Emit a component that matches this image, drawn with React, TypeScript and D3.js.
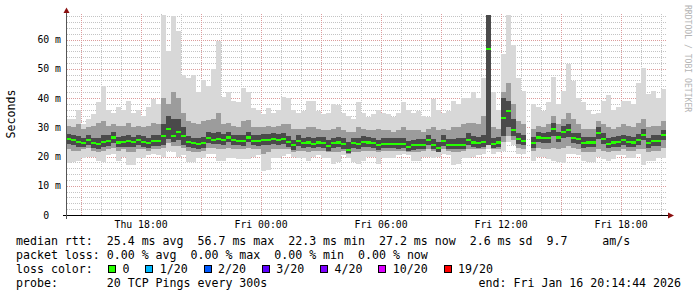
import React from 'react';
import * as d3 from 'd3';

// ---- time frame (15-minute buckets) ----
const START = Date.UTC(2026, 0, 15, 14, 14, 44);
const END = Date.UTC(2026, 0, 16, 20, 14, 44);
const STEP_MS = 15 * 60 * 1000;
const Y_TOP = 68.4;

// ---- median RTT per bucket (ms) ----
const median: (number | null)[] = [
  26.0, 25.5, 25.0, 24.7, 25.5, 24.5, 24.2, 25.0, 25.3, 26.5, 24.8, 25.0, 25.2, 25.0, 25.5, 25.0, 24.5, 25.3, 25.2, 27.0, 29.5, 27.0, 28.5, 27.0, 25.0, 24.5, 24.2, 24.5, 26.3, 25.8,
  26.0, 25.8, 26.5, 25.5, 25.4, 25.2, 26.5, 25.4, 25.3, 25.8, 25.8, 26.0, 25.7, 25.9, 25.0, 23.8, 25.3, 24.5, 24.8, 24.4, 24.8, 24.6, 23.5, 24.5, 24.8, 24.3, 22.3, 24.5, 24.3, 25.0,
  24.8, 24.5, 23.8, 24.3, 24.3, 24.4, 24.2, 24.3, 23.2, 23.8, 24.0, 24.0, 25.5, 24.0, 23.0, 25.2, 24.0, 24.1, 24.0, 24.0, 25.8, 24.8, 24.5, 25.0, 56.7, 24.3, 24.8, 33.2, 35.5, 29.0,
  26.0, 25.4, null, 24.6, 26.5, 26.2, 26.3, 29.5, 26.5, 28.4, 29.0, 26.2, 26.0, 24.6, 24.8, 24.8, 28.0, 26.0, 24.3, 24.8, 25.0, 25.5, 25.0, 24.8, 25.8, 27.5, 24.5, 25.3, 25.3, 27.2,
];

// ---- smoke: outer envelope (slowest / fastest ping) ----
const smokeMax: (number | null)[] = [
  32.8, 33, 36, 31, 33, 34.5, 38.5, 44, 36, 35, 37, 36, 39, 35, 36, 34, 37, 39.6, 38, 68.7, 56, 68, 63, 48, 47, 48, 42, 46, 44, 50,
  59.6, 40.2, 42, 39, 38.5, 43.4, 42, 36.5, 36, 34.5, 36.6, 35, 36, 40.3, 40, 36, 35, 35.5, 39, 39, 35.5, 34.5, 35, 38, 37.6, 35, 34, 33, 38.5, 35,
  33.4, 34.5, 35.8, 35, 34.5, 33.5, 35, 38.6, 36, 35, 35.5, 34, 33.5, 39.6, 36, 35, 35.5, 38.9, 38, 40, 40, 41.9, 40, 47, 68.7, 42, 36, 55, 68.7, 58,
  47, 42.5, null, 38, 36.8, 35.5, 38.5, 47.1, 38, 42.3, 51.6, 45.9, 40, 38.5, 35.8, 34.5, 35, 38.9, 41, 35.8, 37, 38.9, 38.9, 38, 45, 50.4, 41.4, 42.3, 40, 43.2,
];
const smokeMin: (number | null)[] = [
  17.8, 18.0, 18.5, 19.5, 20.0, 20.0, 18.5, 18.0, 20.5, 20.8, 18.5, 20.0, 17.0, 17.2, 19.5, 19.5, 20.5, 21.0, 20.5, 20.0, 22.0, 21.5, 20.0, 20.5, 18.0, 18.2, 19.5, 19.5, 21.0, 21.0,
  18.5, 18.5, 19.5, 19.5, 19.0, 19.2, 19.0, 20.0, 20.5, 15.2, 15.5, 19.5, 19.5, 20.2, 21.0, 20.0, 19.5, 19.5, 18.5, 20.0, 20.5, 19.5, 19.5, 17.5, 18.0, 20.5, 19.5, 18.0, 17.5, 18.5,
  20.0, 20.0, 17.4, 19.5, 19.5, 19.5, 20.5, 21.0, 20.5, 18.5, 18.5, 20.0, 20.0, 19.5, 20.0, 21.0, 20.5, 17.0, 17.5, 19.5, 19.5, 20.0, 20.5, 21.0, 22.5, 21.0, 21.5, 22.0, 25.0, 24.0,
  21.0, 21.0, null, 18.5, 20.0, 20.0, 19.0, 18.5, 18.0, 17.8, 21.0, 21.0, 20.5, 18.5, 18.0, 18.0, 20.0, 19.0, 18.5, 19.0, 20.5, 20.5, 19.5, 19.5, 21.0, 17.0, 18.5, 18.5, 19.5, 19.5,
];

// ---- smoke: middle band ----
const midHi: (number | null)[] = [
  30.5, 30, 31, 29.5, 30, 30.5, 31.5, 32, 30.5, 31, 30.5, 30.5, 31.5, 30, 30.5, 30, 30.5, 31.5, 31, 40, 38, 42, 40, 35, 32, 31.5, 31, 32, 32.5, 33,
  35, 31, 31.5, 30.5, 30, 32, 32.5, 30, 30, 30, 30.5, 30, 30.5, 31, 31, 29.5, 29.5, 29.5, 30, 30, 29.5, 29, 29, 29.5, 30, 29, 28.5, 28.5, 30, 29.5,
  29, 29, 29.5, 29, 29, 28.5, 29, 30, 29, 29, 29, 28.5, 29.5, 30, 29, 29.5, 29, 30, 30, 31, 31.5, 31.5, 31, 34, 62, 30, 29.5, 42, 45, 38,
  32, 31, null, 29.5, 30.5, 30, 31, 34, 31, 33, 35, 33, 31, 29.5, 29.5, 29.5, 32, 31, 30, 29.5, 30, 31, 30.5, 30, 31.5, 33, 30, 30.5, 30.5, 32,
];
const midLo: (number | null)[] = [
  22.5, 22, 22, 22.5, 23, 22, 21.5, 22, 22.5, 23, 22, 22.5, 21.5, 21.5, 22.5, 22.5, 22, 22.5, 22.5, 23, 24.5, 23.5, 23.5, 23, 22, 21.5, 21.5, 22, 23, 23,
  22.5, 22.5, 23, 22.5, 22.5, 22.5, 23, 22.5, 22.5, 21, 21.5, 22.5, 22.5, 22.5, 22.5, 21.5, 22, 22, 21.5, 22, 22, 22, 21.5, 21.5, 21.5, 22, 21, 21.5, 21.5, 22,
  22, 22, 21.5, 22, 22, 22, 22, 22, 21.5, 21.5, 21.5, 22, 22.5, 22, 21.5, 22.5, 22, 21.5, 21.5, 22, 22.5, 22.5, 22.5, 22.5, 24, 22.5, 22.5, 25, 27, 25.5,
  23, 22.5, null, 22, 23, 22.5, 22.5, 23, 22.5, 23, 23.5, 23, 22.5, 21.5, 21.5, 21.5, 22.5, 22, 21.5, 22, 22, 22.5, 22, 22, 22.5, 22.5, 21.5, 22, 22, 23,
];

// ---- smoke: dense core around the median ----
const coreHi: (number | null)[] = [
  27.8, 27.3, 27, 26.5, 27.3, 26.5, 26.3, 27.5, 27.3, 28.3, 26.8, 27, 27.3, 26.8, 27.5, 27, 26.5, 27.3, 27.3, 31, 34, 33, 33, 30, 27, 26.5, 26.3, 26.8, 28.3, 28,
  28.5, 27.8, 28.3, 27.5, 27.3, 27.3, 28.5, 27.3, 27.2, 27.8, 27.8, 28, 27.7, 27.9, 27, 25.8, 27.3, 26.5, 26.8, 26.4, 26.8, 26.6, 25.5, 26.5, 26.8, 26.3, 24.8, 26.5, 26.3, 27,
  26.8, 26.5, 25.8, 26.3, 26.3, 26.4, 26.2, 26.5, 25.2, 25.8, 26, 26, 27.5, 26, 25, 27.2, 26, 26.1, 26.2, 26.3, 28, 27, 26.8, 27.5, 68.7, 26.3, 26.8, 40, 39, 33,
  28, 27.4, null, 26.6, 28.5, 28.2, 28.3, 31.5, 28.5, 30.4, 31, 28.2, 28, 26.6, 26.8, 26.8, 30, 28, 26.3, 26.8, 27, 27.5, 27, 26.8, 27.8, 29.5, 26.5, 27.3, 27.3, 29.2,
];
const coreLo: (number | null)[] = [
  24.3, 23.8, 23.3, 23.2, 23.8, 23, 22.7, 23.3, 23.7, 24.5, 23.2, 23.3, 23.3, 23.2, 23.8, 23.3, 23, 23.7, 23.5, 24, 26, 25, 25.5, 24, 23.3, 22.8, 22.6, 23, 24.5, 24.2,
  24.2, 24, 24.8, 23.8, 23.8, 23.5, 24.8, 23.8, 23.7, 24, 24, 24.3, 24, 24.2, 23.4, 22.3, 23.7, 23, 23.2, 22.8, 23.2, 23, 22, 22.9, 23.2, 22.7, 21.3, 23, 22.7, 23.3,
  23.2, 23, 22.3, 22.8, 22.8, 22.9, 22.7, 22.8, 21.8, 22.3, 22.5, 22.5, 23.8, 22.5, 21.6, 23.5, 22.5, 22.6, 22.5, 22.5, 24, 23.2, 23, 23.3, 24, 22.8, 23.2, 27, 30, 27,
  24.3, 23.8, null, 23, 24.8, 24.6, 24.6, 27, 24.8, 26.5, 26.8, 24.6, 24.3, 23, 23.2, 23.2, 26, 24.3, 22.8, 23.2, 23.4, 23.8, 23.4, 23.2, 24.1, 25.5, 23, 23.6, 23.6, 25.5,
];

// ---- axes / legend ----
const yTicks = [0, 10, 20, 30, 40, 50, 60];
const lossLabels = ['0', '1/20', '2/20', '3/20', '4/20', '10/20', '19/20'];
const lossColors = ['#26ff00', '#00b8ff', '#0059ff', '#5e00ff', '#7e00ff', '#dd00ff', '#ff0000'];
const statLines = [
  'median rtt:  25.4 ms avg  56.7 ms max  22.3 ms min  27.2 ms now  2.6 ms sd  9.7     am/s',
  'packet loss: 0.00 % avg  0.00 % max  0.00 % min  0.00 % now',
];
const lossTitle = 'loss color:';
const probeText = 'probe:       20 TCP Pings every 300s';
const endText = 'end: Fri Jan 16 20:14:44 2026';

const MONO = '"DejaVu Sans Mono", "Liberation Mono", monospace';

export default function App() {
  const W = 697, H = 297;
  const x = d3.scaleUtc().domain([new Date(START), new Date(END)]).range([66, 666]);
  const y = d3.scaleLinear().domain([0, Y_TOP]).range([215, 15]).clamp(true);
  const t0 = (i: number) => new Date(START + i * STEP_MS);
  const fmt = d3.utcFormat('%a %H:%M');

  const band = (lo: (number | null)[], hi: (number | null)[], fill: string, k: string) =>
    lo.map((l, i) => {
      const h = hi[i];
      if (l == null || h == null) return null;
      const x0 = x(t0(i));
      const x1 = x(t0(i + 1));
      const yt = y(h), yb = y(l);
      return <rect key={k + i} x={x0} y={yt} width={x1 - x0} height={yb - yt} fill={fill} />;
    });

  const hours = d3.utcHour.range(new Date(START), new Date(END));
  const minorY = d3.range(2, Y_TOP, 2).filter((v) => v % 10 !== 0);
  const majorY = yTicks.filter((v) => v > 0);
  const xTicks = d3.utcHour.every(6)!.range(new Date(START), new Date(END));
  const px = (v: number) => Math.round(v) + 0.5;

  // legend boxes
  const charW = 6.96;
  let sx = 108;
  const legendItems = lossLabels.map((lab, i) => {
    const item = { x: sx, lab, color: lossColors[i] };
    sx += 30.4 + charW * lab.length;
    return item;
  });

  return (
    <svg width={W} height={H} style={{ position: 'absolute', left: 0, top: 0, background: '#fff' }}>
      <rect x={0} y={0} width={W} height={H} fill="#fff" />
      {/* grid */}
      <g strokeDasharray="1,1" strokeWidth={1} shapeRendering="crispEdges">
        {minorY.map((v) => (
          <line key={'gy' + v} x1={67} x2={666} y1={px(y(v))} y2={px(y(v))} stroke="#c4c4c4" />
        ))}
        {hours.filter((h) => h.getUTCHours() % 3 !== 0).map((h) => (
          <line key={'gx' + +h} x1={px(x(h))} x2={px(x(h))} y1={14} y2={215} stroke="#c4c4c4" />
        ))}
        {majorY.map((v) => (
          <line key={'my' + v} x1={67} x2={666} y1={px(y(v))} y2={px(y(v))} stroke="#dc9c9c" />
        ))}
        {hours.filter((h) => h.getUTCHours() % 3 === 0).map((h) => (
          <line key={'mx' + +h} x1={px(x(h))} x2={px(x(h))} y1={14} y2={215} stroke="#dc9c9c" />
        ))}
      </g>
      {/* smoke */}
      <g shapeRendering="crispEdges">
        {band(smokeMin, smokeMax, '#d8d8d8', 'o')}
        {band(midLo, midHi, '#9c9c9c', 'm')}
        {band(coreLo, coreHi, '#4a4a4a', 'c')}
      </g>
      {/* median (loss-coloured) */}
      <g shapeRendering="crispEdges">
        {median.map((m, i) => {
          if (m == null) return null;
          const x0 = x(t0(i)), x1 = x(t0(i + 1));
          const yt = y(m + 0.35), yb = y(m - 0.35);
          return <rect key={'md' + i} x={x0} y={yt} width={x1 - x0} height={yb - yt} fill={lossColors[0]} />;
        })}
      </g>
      {/* axes */}
      <g shapeRendering="crispEdges">
        <line x1={63} x2={670} y1={215.5} y2={215.5} stroke="#000" />
        <line x1={66.5} x2={66.5} y1={219} y2={12} stroke="#555" />
      </g>
      <path d="M668,212.5 L674,215.5 L668,218.5 Z" fill="#8b1010" />
      <path d="M63.5,13 L66.5,7.5 L69.5,13 Z" fill="#8b1010" />
      {/* tick labels */}
      <g fontFamily={MONO} fontSize={9.8} fill="#000">
        {yTicks.map((v) => (
          <text key={'yl' + v} x={61} y={y(v) + 3.5} textAnchor="end" xmlSpace="preserve">
            {v === 0 ? '0  ' : `${v} m`}
          </text>
        ))}
        {xTicks.map((t) => (
          <text key={'xl' + +t} x={x(t)} y={228} textAnchor="middle">
            {fmt(t)}
          </text>
        ))}
      </g>
      {/* unit label */}
      <text transform="translate(15,114) rotate(-90)" textAnchor="middle" fontFamily={MONO} fontSize={11.6} fill="#000">
        Seconds
      </text>
      {/* watermark */}
      <text transform="translate(684.5,5) rotate(90)" fontFamily={MONO} fontSize={8.1} fill="#b4b4b4">
        RRDTOOL / TOBI OETIKER
      </text>
      {/* legend */}
      <g fontFamily={MONO} fontSize={11.6} fill="#000">
        <text x={16} y={245} xmlSpace="preserve">{statLines[0]}</text>
        <text x={16} y={259} xmlSpace="preserve">{statLines[1]}</text>
        <text x={16} y={273} xmlSpace="preserve">{lossTitle}</text>
        {legendItems.map((it) => (
          <g key={'lg' + it.lab}>
            <rect x={it.x + 0.5} y={265.5} width={7} height={7} fill={it.color} stroke="#000" shapeRendering="crispEdges" />
            <text x={it.x + 14.5} y={273}>{it.lab}</text>
          </g>
        ))}
        <text x={16} y={287} xmlSpace="preserve">{probeText}</text>
        <text x={681} y={287} textAnchor="end" xmlSpace="preserve">{endText}</text>
      </g>
    </svg>
  );
}
